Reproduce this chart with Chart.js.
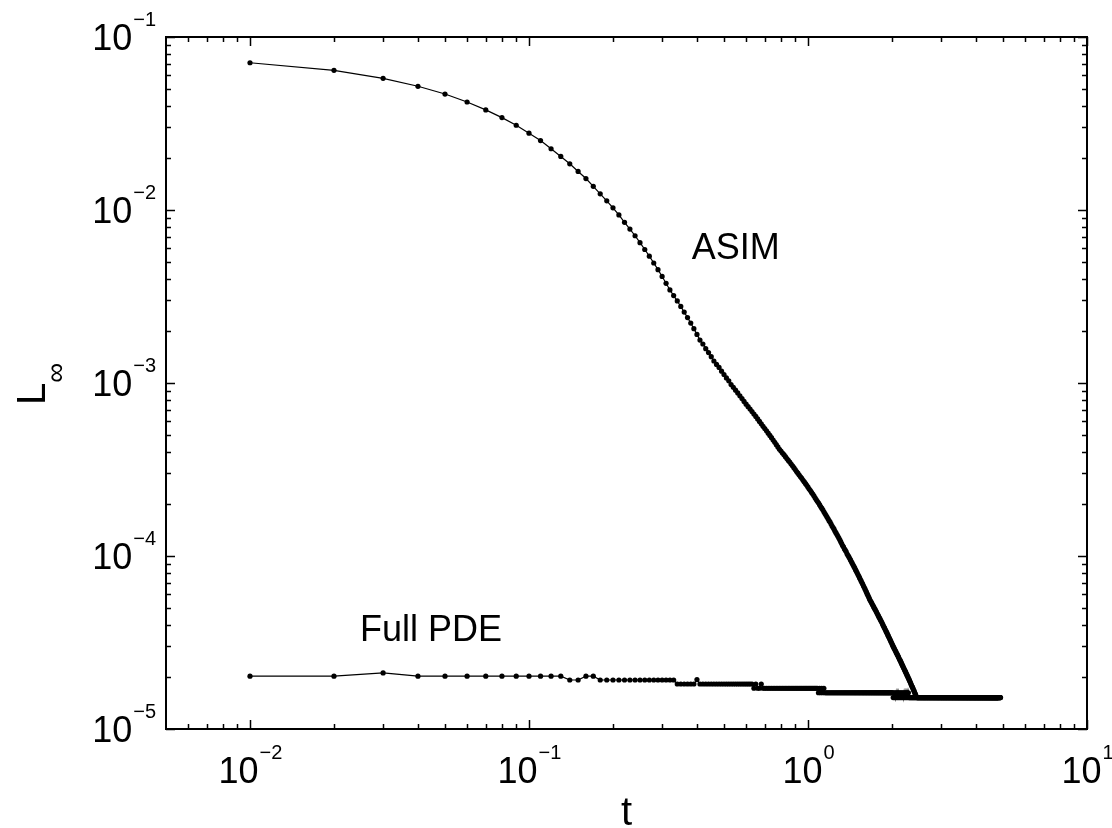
<!DOCTYPE html>
<html>
<head>
<meta charset="utf-8">
<title>L-infinity error vs t</title>
<script src="https://cdn.jsdelivr.net/npm/chart.js@4/dist/chart.umd.min.js"></script>
<style>
  html, body { margin: 0; padding: 0; background: #fff; }
  #wrap { width: 1112px; height: 828px; }
</style>
</head>
<body>
<div id="wrap"><canvas id="errChart" width="1112" height="828"></canvas></div>
<script>
// time samples (dt = 0.01)
const t = [
  0.01,0.02,0.03,0.04,0.05,0.06,0.07,0.08,0.09,0.10,
  0.11,0.12,0.13,0.14,0.15,0.16,0.17,0.18,0.19,0.20,
  0.21,0.22,0.23,0.24,0.25,0.26,0.27,0.28,0.29,0.30,
  0.31,0.32,0.33,0.34,0.35,0.36,0.37,0.38,0.39,0.40,
  0.41,0.42,0.43,0.44,0.45,0.46,0.47,0.48,0.49,0.50,
  0.51,0.52,0.53,0.54,0.55,0.56,0.57,0.58,0.59,0.60,
  0.61,0.62,0.63,0.64,0.65,0.66,0.67,0.68,0.69,0.70,
  0.71,0.72,0.73,0.74,0.75,0.76,0.77,0.78,0.79,0.80,
  0.81,0.82,0.83,0.84,0.85,0.86,0.87,0.88,0.89,0.90,
  0.91,0.92,0.93,0.94,0.95,0.96,0.97,0.98,0.99,1.00,
  1.01,1.02,1.03,1.04,1.05,1.06,1.07,1.08,1.09,1.10,
  1.11,1.12,1.13,1.14,1.15,1.16,1.17,1.18,1.19,1.20,
  1.21,1.22,1.23,1.24,1.25,1.26,1.27,1.28,1.29,1.30,
  1.31,1.32,1.33,1.34,1.35,1.36,1.37,1.38,1.39,1.40,
  1.41,1.42,1.43,1.44,1.45,1.46,1.47,1.48,1.49,1.50,
  1.51,1.52,1.53,1.54,1.55,1.56,1.57,1.58,1.59,1.60,
  1.61,1.62,1.63,1.64,1.65,1.66,1.67,1.68,1.69,1.70,
  1.71,1.72,1.73,1.74,1.75,1.76,1.77,1.78,1.79,1.80,
  1.81,1.82,1.83,1.84,1.85,1.86,1.87,1.88,1.89,1.90,
  1.91,1.92,1.93,1.94,1.95,1.96,1.97,1.98,1.99,2.00,
  2.01,2.02,2.03,2.04,2.05,2.06,2.07,2.08,2.09,2.10,
  2.11,2.12,2.13,2.14,2.15,2.16,2.17,2.18,2.19,2.20,
  2.21,2.22,2.23,2.24,2.25,2.26,2.27,2.28,2.29,2.30,
  2.31,2.32,2.33,2.34,2.35,2.36,2.37,2.38,2.39,2.40,
  2.41,2.42,2.43,2.44,2.45,2.46,2.47,2.48,2.49,2.50,
  2.51,2.52,2.53,2.54,2.55,2.56,2.57,2.58,2.59,2.60,
  2.61,2.62,2.63,2.64,2.65,2.66,2.67,2.68,2.69,2.70,
  2.71,2.72,2.73,2.74,2.75,2.76,2.77,2.78,2.79,2.80,
  2.81,2.82,2.83,2.84,2.85,2.86,2.87,2.88,2.89,2.90,
  2.91,2.92,2.93,2.94,2.95,2.96,2.97,2.98,2.99,3.00,
  3.01,3.02,3.03,3.04,3.05,3.06,3.07,3.08,3.09,3.10,
  3.11,3.12,3.13,3.14,3.15,3.16,3.17,3.18,3.19,3.20,
  3.21,3.22,3.23,3.24,3.25,3.26,3.27,3.28,3.29,3.30,
  3.31,3.32,3.33,3.34,3.35,3.36,3.37,3.38,3.39,3.40,
  3.41,3.42,3.43,3.44,3.45,3.46,3.47,3.48,3.49,3.50,
  3.51,3.52,3.53,3.54,3.55,3.56,3.57,3.58,3.59,3.60,
  3.61,3.62,3.63,3.64,3.65,3.66,3.67,3.68,3.69,3.70,
  3.71,3.72,3.73,3.74,3.75,3.76,3.77,3.78,3.79,3.80,
  3.81,3.82,3.83,3.84,3.85,3.86,3.87,3.88,3.89,3.90,
  3.91,3.92,3.93,3.94,3.95,3.96,3.97,3.98,3.99,4.00,
  4.01,4.02,4.03,4.04,4.05,4.06,4.07,4.08,4.09,4.10,
  4.11,4.12,4.13,4.14,4.15,4.16,4.17,4.18,4.19,4.20,
  4.21,4.22,4.23,4.24,4.25,4.26,4.27,4.28,4.29,4.30,
  4.31,4.32,4.33,4.34,4.35,4.36,4.37,4.38,4.39,4.40,
  4.41,4.42,4.43,4.44,4.45,4.46,4.47,4.48,4.49,4.50,
  4.51,4.52,4.53,4.54,4.55,4.56,4.57,4.58,4.59,4.60,
  4.61,4.62,4.63,4.64,4.65,4.66,4.67,4.68,4.69,4.70,
  4.71,4.72,4.73,4.74,4.75,4.76,4.77,4.78,4.79,4.80,
  4.81,4.82,4.83,4.84,4.85,4.86,4.87,4.88,4.89,4.90,
  4.91,4.92,4.93,4.94,4.95,4.96,4.97,4.98,4.99,5.00
];

// L-infinity error of the ASIM solution
const asim = [
  0.0710,0.0642,0.0577,0.0519,0.0468,0.0421,0.0379,0.0342,0.0309,0.0278,
  0.0252,0.0226,0.0204,0.0185,0.0167,0.0152,0.0137,0.0124,0.0113,0.0103,
  0.00936,0.00849,0.00776,0.00710,0.00647,0.00591,0.00541,0.00494,0.00452,0.00413,
  0.00377,0.00345,0.00320,0.00298,0.00277,0.00257,0.00239,0.00222,0.00206,0.00191,
  0.00177,0.00168,0.00158,0.00150,0.00142,0.00134,0.00128,0.00123,0.00117,0.00112,
  0.00107,0.00103,9.80e-4,9.44e-4,9.09e-4,8.76e-4,8.44e-4,8.13e-4,7.83e-4,7.54e-4,
  7.30e-4,7.07e-4,6.84e-4,6.62e-4,6.41e-4,6.20e-4,6.00e-4,5.81e-4,5.62e-4,5.45e-4,
  5.29e-4,5.13e-4,4.98e-4,4.83e-4,4.68e-4,4.54e-4,4.40e-4,4.27e-4,4.14e-4,4.04e-4,
  3.94e-4,3.85e-4,3.75e-4,3.66e-4,3.57e-4,3.49e-4,3.40e-4,3.32e-4,3.24e-4,3.16e-4,
  3.08e-4,3.01e-4,2.94e-4,2.87e-4,2.81e-4,2.74e-4,2.68e-4,2.62e-4,2.56e-4,2.50e-4,
  2.44e-4,2.39e-4,2.33e-4,2.28e-4,2.23e-4,2.17e-4,2.12e-4,2.07e-4,2.03e-4,1.98e-4,
  1.93e-4,1.89e-4,1.85e-4,1.80e-4,1.76e-4,1.72e-4,1.68e-4,1.64e-4,1.60e-4,1.57e-4,
  1.53e-4,1.49e-4,1.46e-4,1.43e-4,1.39e-4,1.36e-4,1.33e-4,1.30e-4,1.27e-4,1.24e-4,
  1.21e-4,1.18e-4,1.15e-4,1.13e-4,1.10e-4,1.08e-4,1.06e-4,1.03e-4,1.01e-4,9.91e-5,
  9.70e-5,9.49e-5,9.29e-5,9.09e-5,8.90e-5,8.71e-5,8.53e-5,8.34e-5,8.17e-5,7.99e-5,
  7.82e-5,7.66e-5,7.49e-5,7.33e-5,7.18e-5,7.03e-5,6.88e-5,6.73e-5,6.59e-5,6.45e-5,
  6.31e-5,6.18e-5,6.04e-5,5.92e-5,5.79e-5,5.67e-5,5.55e-5,5.45e-5,5.36e-5,5.26e-5,
  5.17e-5,5.08e-5,4.99e-5,4.91e-5,4.82e-5,4.74e-5,4.65e-5,4.57e-5,4.49e-5,4.41e-5,
  4.34e-5,4.26e-5,4.19e-5,4.12e-5,4.04e-5,3.97e-5,3.90e-5,3.84e-5,3.77e-5,3.70e-5,
  3.64e-5,3.58e-5,3.51e-5,3.45e-5,3.39e-5,3.33e-5,3.28e-5,3.22e-5,3.16e-5,3.11e-5,
  3.05e-5,3.00e-5,2.95e-5,2.91e-5,2.86e-5,2.82e-5,2.77e-5,2.73e-5,2.69e-5,2.65e-5,
  2.61e-5,2.56e-5,2.52e-5,2.49e-5,2.45e-5,2.41e-5,2.37e-5,2.33e-5,2.30e-5,2.26e-5,
  2.23e-5,2.19e-5,2.16e-5,2.13e-5,2.09e-5,2.06e-5,2.03e-5,2.00e-5,1.97e-5,1.94e-5,
  1.91e-5,1.88e-5,1.85e-5,1.82e-5,1.79e-5,1.76e-5,1.74e-5,1.71e-5,1.68e-5,1.66e-5,
  1.63e-5,1.60e-5,1.58e-5,1.55e-5,1.53e-5,1.52e-5,1.52e-5,1.52e-5,1.52e-5,1.52e-5,
  1.52e-5,1.52e-5,1.52e-5,1.52e-5,1.52e-5,1.52e-5,1.52e-5,1.52e-5,1.52e-5,1.52e-5,
  1.52e-5,1.52e-5,1.52e-5,1.52e-5,1.52e-5,1.52e-5,1.52e-5,1.52e-5,1.52e-5,1.52e-5,
  1.52e-5,1.52e-5,1.52e-5,1.52e-5,1.52e-5,1.52e-5,1.52e-5,1.52e-5,1.52e-5,1.52e-5,
  1.52e-5,1.52e-5,1.52e-5,1.52e-5,1.52e-5,1.52e-5,1.52e-5,1.52e-5,1.52e-5,1.52e-5,
  1.52e-5,1.52e-5,1.52e-5,1.52e-5,1.52e-5,1.52e-5,1.52e-5,1.52e-5,1.52e-5,1.52e-5,
  1.52e-5,1.52e-5,1.52e-5,1.52e-5,1.52e-5,1.52e-5,1.52e-5,1.52e-5,1.52e-5,1.52e-5,
  1.52e-5,1.52e-5,1.52e-5,1.52e-5,1.52e-5,1.52e-5,1.52e-5,1.52e-5,1.52e-5,1.52e-5,
  1.52e-5,1.52e-5,1.52e-5,1.52e-5,1.52e-5,1.52e-5,1.52e-5,1.52e-5,1.52e-5,1.52e-5,
  1.52e-5,1.52e-5,1.52e-5,1.52e-5,1.52e-5,1.52e-5,1.52e-5,1.52e-5,1.52e-5,1.52e-5,
  1.52e-5,1.52e-5,1.52e-5,1.52e-5,1.52e-5,1.52e-5,1.52e-5,1.52e-5,1.52e-5,1.52e-5,
  1.52e-5,1.52e-5,1.52e-5,1.52e-5,1.52e-5,1.52e-5,1.52e-5,1.52e-5,1.52e-5,1.52e-5,
  1.52e-5,1.52e-5,1.52e-5,1.52e-5,1.52e-5,1.52e-5,1.52e-5,1.52e-5,1.52e-5,1.52e-5,
  1.52e-5,1.52e-5,1.52e-5,1.52e-5,1.52e-5,1.52e-5,1.52e-5,1.52e-5,1.52e-5,1.52e-5,
  1.52e-5,1.52e-5,1.52e-5,1.52e-5,1.52e-5,1.52e-5,1.52e-5,1.52e-5,1.52e-5,1.52e-5,
  1.52e-5,1.52e-5,1.52e-5,1.52e-5,1.52e-5,1.52e-5,1.52e-5,1.52e-5,1.52e-5,1.52e-5,
  1.52e-5,1.52e-5,1.52e-5,1.52e-5,1.52e-5,1.52e-5,1.52e-5,1.52e-5,1.52e-5,1.52e-5,
  1.52e-5,1.52e-5,1.52e-5,1.52e-5,1.52e-5,1.52e-5,1.52e-5,1.52e-5,1.52e-5,1.52e-5,
  1.52e-5,1.52e-5,1.52e-5,1.52e-5,1.52e-5,1.52e-5,1.52e-5,1.52e-5,1.52e-5,1.52e-5,
  1.52e-5,1.52e-5,1.52e-5,1.52e-5,1.52e-5,1.52e-5,1.52e-5,1.52e-5,1.52e-5,1.52e-5,
  1.52e-5,1.52e-5,1.52e-5,1.52e-5,1.52e-5,1.52e-5,1.52e-5,1.52e-5,1.52e-5,1.52e-5,
  1.52e-5,1.52e-5,1.52e-5,1.52e-5,1.52e-5,1.52e-5,1.52e-5,1.52e-5,1.52e-5,1.52e-5,
  1.52e-5,1.52e-5,1.52e-5,1.52e-5,1.52e-5,1.52e-5,1.52e-5,1.52e-5,1.52e-5,1.52e-5,
  1.52e-5,1.52e-5,1.52e-5,1.52e-5,1.52e-5,1.52e-5,1.52e-5,1.52e-5,1.52e-5,1.52e-5
];

// L-infinity error of the full PDE solution
const fullPde = [
  2.02e-5,2.02e-5,2.11e-5,2.02e-5,2.02e-5,2.02e-5,2.02e-5,2.02e-5,2.02e-5,2.02e-5,
  2.02e-5,2.02e-5,2.02e-5,1.92e-5,1.92e-5,2.02e-5,2.02e-5,1.92e-5,1.92e-5,1.92e-5,
  1.92e-5,1.92e-5,1.92e-5,1.92e-5,1.92e-5,1.92e-5,1.92e-5,1.92e-5,1.92e-5,1.92e-5,
  1.92e-5,1.92e-5,1.92e-5,1.82e-5,1.82e-5,1.82e-5,1.82e-5,1.82e-5,1.82e-5,1.93e-5,
  1.82e-5,1.82e-5,1.82e-5,1.82e-5,1.82e-5,1.82e-5,1.82e-5,1.82e-5,1.82e-5,1.82e-5,
  1.82e-5,1.82e-5,1.82e-5,1.82e-5,1.82e-5,1.82e-5,1.82e-5,1.82e-5,1.82e-5,1.82e-5,
  1.82e-5,1.82e-5,1.82e-5,1.72e-5,1.82e-5,1.72e-5,1.72e-5,1.82e-5,1.72e-5,1.72e-5,
  1.72e-5,1.72e-5,1.72e-5,1.72e-5,1.72e-5,1.72e-5,1.72e-5,1.72e-5,1.72e-5,1.72e-5,
  1.72e-5,1.72e-5,1.72e-5,1.72e-5,1.72e-5,1.72e-5,1.72e-5,1.72e-5,1.72e-5,1.72e-5,
  1.72e-5,1.72e-5,1.72e-5,1.72e-5,1.72e-5,1.72e-5,1.72e-5,1.72e-5,1.72e-5,1.72e-5,
  1.72e-5,1.72e-5,1.72e-5,1.72e-5,1.72e-5,1.72e-5,1.72e-5,1.72e-5,1.62e-5,1.72e-5,
  1.62e-5,1.72e-5,1.62e-5,1.72e-5,1.62e-5,1.62e-5,1.62e-5,1.62e-5,1.62e-5,1.62e-5,
  1.62e-5,1.62e-5,1.62e-5,1.62e-5,1.62e-5,1.62e-5,1.62e-5,1.62e-5,1.62e-5,1.62e-5,
  1.62e-5,1.62e-5,1.62e-5,1.62e-5,1.62e-5,1.62e-5,1.62e-5,1.62e-5,1.62e-5,1.62e-5,
  1.62e-5,1.62e-5,1.62e-5,1.62e-5,1.62e-5,1.62e-5,1.62e-5,1.62e-5,1.62e-5,1.62e-5,
  1.62e-5,1.62e-5,1.62e-5,1.62e-5,1.62e-5,1.62e-5,1.62e-5,1.62e-5,1.62e-5,1.62e-5,
  1.62e-5,1.62e-5,1.62e-5,1.62e-5,1.62e-5,1.62e-5,1.62e-5,1.62e-5,1.62e-5,1.62e-5,
  1.62e-5,1.62e-5,1.62e-5,1.62e-5,1.62e-5,1.62e-5,1.62e-5,1.62e-5,1.62e-5,1.62e-5,
  1.62e-5,1.62e-5,1.62e-5,1.62e-5,1.62e-5,1.62e-5,1.62e-5,1.62e-5,1.62e-5,1.62e-5,
  1.62e-5,1.62e-5,1.62e-5,1.62e-5,1.62e-5,1.62e-5,1.62e-5,1.62e-5,1.62e-5,1.62e-5,
  1.62e-5,1.52e-5,1.62e-5,1.52e-5,1.62e-5,1.52e-5,1.62e-5,1.52e-5,1.62e-5,1.52e-5,
  1.62e-5,1.52e-5,1.62e-5,1.52e-5,1.62e-5,1.52e-5,1.62e-5,1.52e-5,1.62e-5,1.52e-5,
  1.62e-5,1.52e-5,1.62e-5,1.52e-5,1.62e-5,1.52e-5,1.62e-5,1.52e-5,1.62e-5,1.52e-5,
  1.52e-5,1.52e-5,1.52e-5,1.52e-5,1.52e-5,1.52e-5,1.52e-5,1.52e-5,1.52e-5,1.52e-5,
  1.52e-5,1.52e-5,1.52e-5,1.52e-5,1.52e-5,1.52e-5,1.52e-5,1.52e-5,1.52e-5,1.52e-5,
  1.52e-5,1.52e-5,1.52e-5,1.52e-5,1.52e-5,1.52e-5,1.52e-5,1.52e-5,1.52e-5,1.52e-5,
  1.52e-5,1.52e-5,1.52e-5,1.52e-5,1.52e-5,1.52e-5,1.52e-5,1.52e-5,1.52e-5,1.52e-5,
  1.52e-5,1.52e-5,1.52e-5,1.52e-5,1.52e-5,1.52e-5,1.52e-5,1.52e-5,1.52e-5,1.52e-5,
  1.52e-5,1.52e-5,1.52e-5,1.52e-5,1.52e-5,1.52e-5,1.52e-5,1.52e-5,1.52e-5,1.52e-5,
  1.52e-5,1.52e-5,1.52e-5,1.52e-5,1.52e-5,1.52e-5,1.52e-5,1.52e-5,1.52e-5,1.52e-5,
  1.52e-5,1.52e-5,1.52e-5,1.52e-5,1.52e-5,1.52e-5,1.52e-5,1.52e-5,1.52e-5,1.52e-5,
  1.52e-5,1.52e-5,1.52e-5,1.52e-5,1.52e-5,1.52e-5,1.52e-5,1.52e-5,1.52e-5,1.52e-5,
  1.52e-5,1.52e-5,1.52e-5,1.52e-5,1.52e-5,1.52e-5,1.52e-5,1.52e-5,1.52e-5,1.52e-5,
  1.52e-5,1.52e-5,1.52e-5,1.52e-5,1.52e-5,1.52e-5,1.52e-5,1.52e-5,1.52e-5,1.52e-5,
  1.52e-5,1.52e-5,1.52e-5,1.52e-5,1.52e-5,1.52e-5,1.52e-5,1.52e-5,1.52e-5,1.52e-5,
  1.52e-5,1.52e-5,1.52e-5,1.52e-5,1.52e-5,1.52e-5,1.52e-5,1.52e-5,1.52e-5,1.52e-5,
  1.52e-5,1.52e-5,1.52e-5,1.52e-5,1.52e-5,1.52e-5,1.52e-5,1.52e-5,1.52e-5,1.52e-5,
  1.52e-5,1.52e-5,1.52e-5,1.52e-5,1.52e-5,1.52e-5,1.52e-5,1.52e-5,1.52e-5,1.52e-5,
  1.52e-5,1.52e-5,1.52e-5,1.52e-5,1.52e-5,1.52e-5,1.52e-5,1.52e-5,1.52e-5,1.52e-5,
  1.52e-5,1.52e-5,1.52e-5,1.52e-5,1.52e-5,1.52e-5,1.52e-5,1.52e-5,1.52e-5,1.52e-5,
  1.52e-5,1.52e-5,1.52e-5,1.52e-5,1.52e-5,1.52e-5,1.52e-5,1.52e-5,1.52e-5,1.52e-5,
  1.52e-5,1.52e-5,1.52e-5,1.52e-5,1.52e-5,1.52e-5,1.52e-5,1.52e-5,1.52e-5,1.52e-5,
  1.52e-5,1.52e-5,1.52e-5,1.52e-5,1.52e-5,1.52e-5,1.52e-5,1.52e-5,1.52e-5,1.52e-5,
  1.52e-5,1.52e-5,1.52e-5,1.52e-5,1.52e-5,1.52e-5,1.52e-5,1.52e-5,1.52e-5,1.52e-5,
  1.52e-5,1.52e-5,1.52e-5,1.52e-5,1.52e-5,1.52e-5,1.52e-5,1.52e-5,1.52e-5,1.52e-5,
  1.52e-5,1.52e-5,1.52e-5,1.52e-5,1.52e-5,1.52e-5,1.52e-5,1.52e-5,1.52e-5,1.52e-5,
  1.52e-5,1.52e-5,1.52e-5,1.52e-5,1.52e-5,1.52e-5,1.52e-5,1.52e-5,1.52e-5,1.52e-5,
  1.52e-5,1.52e-5,1.52e-5,1.52e-5,1.52e-5,1.52e-5,1.52e-5,1.52e-5,1.52e-5,1.52e-5,
  1.52e-5,1.52e-5,1.52e-5,1.52e-5,1.52e-5,1.52e-5,1.52e-5,1.52e-5,1.52e-5,1.52e-5
];

// decade tick labels: base 10 with these exponents
const xDecades = [1e-2, 1e-1, 1, 10];
const xExponents = ['\u22122', '\u22121', '0', '1'];
const yDecades = [1e-5, 1e-4, 1e-3, 1e-2, 1e-1];
const yExponents = ['\u22125', '\u22124', '\u22123', '\u22122', '\u22121'];

const FONT = '"Liberation Sans", Arial, Helvetica, sans-serif';

// 2..9 x 10^k values inside [min, max]
function minorTicks(min, max) {
    const out = [];
    for (let e = Math.floor(Math.log10(min)); e <= Math.ceil(Math.log10(max)); e++) {
        for (let k = 2; k <= 9; k++) {
            const v = k * Math.pow(10, e);
            if (v > min * 1.0001 && v < max * 0.9999) out.push(v);
        }
    }
    return out;
}

// boxed axes with inward ticks, 10^n labels and text annotations
const boxAxes = {
    id: 'boxAxes',
    afterDatasetsDraw(chart) {
        const { ctx, chartArea: a, scales: { x, y } } = chart;
        ctx.save();
        ctx.strokeStyle = '#000';
        ctx.fillStyle = '#000';

        // ticks on all four sides
        ctx.lineWidth = 1.5;
        ctx.beginPath();
        const xTick = (v, len) => {
            const px = Math.round(x.getPixelForValue(v)) + 0.5;
            ctx.moveTo(px, a.bottom); ctx.lineTo(px, a.bottom - len);
            ctx.moveTo(px, a.top); ctx.lineTo(px, a.top + len);
        };
        const yTick = (v, len) => {
            const py = Math.round(y.getPixelForValue(v)) + 0.5;
            ctx.moveTo(a.left, py); ctx.lineTo(a.left + len, py);
            ctx.moveTo(a.right, py); ctx.lineTo(a.right - len, py);
        };
        minorTicks(x.min, x.max).forEach(v => xTick(v, 5));
        xDecades.forEach(v => xTick(v, 9));
        minorTicks(y.min, y.max).forEach(v => yTick(v, 5));
        yDecades.forEach(v => yTick(v, 9));
        ctx.stroke();

        ctx.lineWidth = 2;
        ctx.strokeRect(a.left, a.top, a.right - a.left, a.bottom - a.top);

        // x tick labels, centred under the tick
        ctx.textBaseline = 'alphabetic';
        ctx.textAlign = 'left';
        xDecades.forEach((v, i) => {
            const px = x.getPixelForValue(v);
            ctx.font = '36px ' + FONT;
            const wBase = ctx.measureText('10').width;
            ctx.font = '20px ' + FONT;
            const wExp = ctx.measureText(xExponents[i]).width;
            const left = px - (wBase + wExp) / 2;
            ctx.font = '36px ' + FONT;
            ctx.fillText('10', left, a.bottom + 54);
            ctx.font = '20px ' + FONT;
            ctx.fillText(xExponents[i], left + wBase + 1, a.bottom + 30);
        });

        // y tick labels, right-aligned left of the axis
        yDecades.forEach((v, i) => {
            const py = y.getPixelForValue(v);
            ctx.font = '20px ' + FONT;
            const wExp = ctx.measureText(yExponents[i]).width;
            ctx.font = '36px ' + FONT;
            const wBase = ctx.measureText('10').width;
            const right = a.left - 10;
            ctx.fillText('10', right - wExp - wBase - 1, py + 13);
            ctx.font = '20px ' + FONT;
            ctx.fillText(yExponents[i], right - wExp, py - 11);
        });

        // axis titles
        ctx.font = '40px ' + FONT;
        ctx.textAlign = 'center';
        ctx.fillText('t', (a.left + a.right) / 2, 825);

        ctx.save();
        ctx.translate(45, (a.top + a.bottom) / 2 + 22);
        ctx.rotate(-Math.PI / 2);
        ctx.textAlign = 'left';
        ctx.font = '40px ' + FONT;
        ctx.fillText('L', 0, 0);
        const wL = ctx.measureText('L').width;
        ctx.font = '28px ' + FONT;
        ctx.fillText('\u221E', wL, 20);
        ctx.restore();

        // curve annotations
        ctx.font = '36px ' + FONT;
        ctx.textAlign = 'left';
        ctx.fillText('ASIM', x.getPixelForValue(0.383), y.getPixelForValue(5.21e-3));
        ctx.fillText('Full PDE', x.getPixelForValue(0.0248), y.getPixelForValue(3.23e-5));

        ctx.restore();
    }
};

const lineStyle = {
    showLine: true,
    borderColor: '#000',
    borderWidth: 1.2,
    pointRadius: 2.6,
    pointHoverRadius: 2.6,
    pointBackgroundColor: '#000',
    pointBorderWidth: 0,
    tension: 0
};

new Chart(document.getElementById('errChart'), {
    type: 'scatter',
    data: {
        datasets: [
            { label: 'ASIM', data: t.map((v, i) => ({ x: v, y: asim[i] })), ...lineStyle },
            { label: 'Full PDE', data: t.map((v, i) => ({ x: v, y: fullPde[i] })), ...lineStyle }
        ]
    },
    options: {
        responsive: false,
        animation: false,
        devicePixelRatio: 1,
        layout: { padding: { left: 166, right: 25, top: 37, bottom: 99 } },
        plugins: { legend: { display: false }, tooltip: { enabled: false } },
        scales: {
            x: { type: 'logarithmic', min: 0.005, max: 10, display: false },
            y: { type: 'logarithmic', min: 1e-5, max: 1e-1, display: false }
        }
    },
    plugins: [boxAxes]
});
</script>
</body>
</html>
